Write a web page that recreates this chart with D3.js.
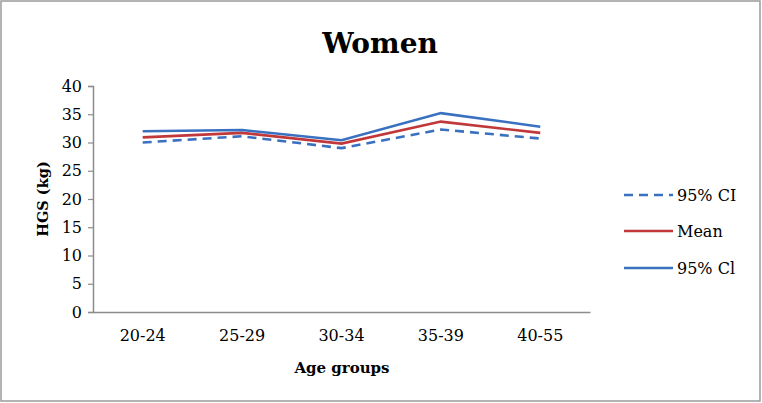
<!DOCTYPE html>
<html><head><meta charset="utf-8">
<script src="https://cdn.jsdelivr.net/npm/d3@7"></script>
<style>body{margin:0;background:#fff}svg{display:block}</style>
</head><body><svg id="c" width="762" height="403"></svg>
<script>
const categories = ["20-24","25-29","30-34","35-39","40-55"];
const lowerCI = [30.0, 31.1, 29.0, 32.3, 30.7];
const meanVals = [30.9, 31.7, 29.8, 33.7, 31.7];
const upperCI = [32.0, 32.2, 30.4, 35.2, 32.8];
const yTicks = [0,5,10,15,20,25,30,35,40];
const seriesNames = ["95% CI","Mean","95% Cl"];

const font = "'DejaVu Serif', serif";
const svg = d3.select("#c");
svg.append("rect").attr("x",1).attr("y",1).attr("width",759).attr("height",400)
  .attr("fill","#fff").attr("stroke","#9a9a9a").attr("stroke-width",1.5);

const x = d3.scaleBand().domain(categories).range([93,590]);
const y = d3.scaleLinear().domain([0,40]).range([312,86]);

// y axis
const ya = svg.append("g").attr("transform","translate(93,0)")
  .call(d3.axisLeft(y).tickValues(yTicks).tickSize(5).tickPadding(6));
ya.select(".domain").attr("stroke","#8c8c8c").attr("stroke-width",1.5);
ya.selectAll(".tick line").attr("stroke","#8c8c8c").attr("stroke-width",1.2);
ya.selectAll(".tick text").attr("font-family",font).attr("font-size",16).attr("fill","#000");

// x axis
const xa = svg.append("g").attr("transform","translate(0,312)")
  .call(d3.axisBottom(x).tickSize(0).tickPadding(18));
xa.select(".domain").attr("stroke","#8c8c8c").attr("stroke-width",1.5);
xa.selectAll(".tick text").attr("font-family",font).attr("font-size",16).attr("fill","#000");

const cx = d => x(d) + x.bandwidth()/2;
const line = d3.line().x((d,i)=>cx(categories[i])).y(d=>y(d));
const series = [
  {name:seriesNames[0], vals:lowerCI, color:"#3a70c0", dash:"9,6"},
  {name:seriesNames[1], vals:meanVals, color:"#c0383a", dash:null},
  {name:seriesNames[2], vals:upperCI, color:"#3a70c0", dash:null}
];
series.forEach(s=>{
  svg.append("path").datum(s.vals).attr("d",line).attr("fill","none")
    .attr("stroke",s.color).attr("stroke-width",2.6)
    .attr("stroke-dasharray",s.dash);
});

// legend
const ly = [195,231,268];
series.forEach((s,i)=>{
  svg.append("line").attr("x1",624).attr("x2",673).attr("y1",ly[i]).attr("y2",ly[i])
    .attr("stroke",s.color).attr("stroke-width",2.6).attr("stroke-dasharray",s.dash);
  svg.append("text").attr("x",677).attr("y",ly[i]).attr("dy","0.35em")
    .attr("font-family",font).attr("font-size",16).text(s.name);
});

// titles
svg.append("text").attr("x",380).attr("y",53).attr("text-anchor","middle")
  .attr("font-family",font).attr("font-weight","bold").attr("font-size",28).text("Women");
svg.append("text").attr("x",342).attr("y",373).attr("text-anchor","middle")
  .attr("font-family",font).attr("font-weight","bold").attr("font-size",15).text("Age groups");
svg.append("text").attr("transform","translate(48,199) rotate(-90)").attr("text-anchor","middle")
  .attr("font-family",font).attr("font-weight","bold").attr("font-size",14.5).text("HGS (kg)");
</script></body></html>
